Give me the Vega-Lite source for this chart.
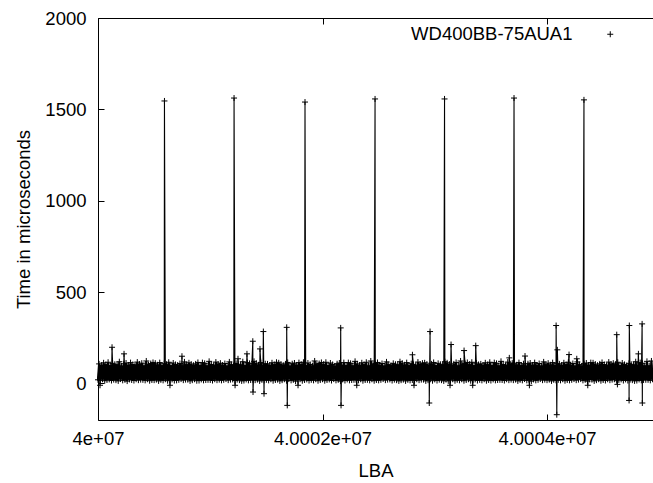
{
"$schema":"https://vega.github.io/schema/vega-lite/v6.json",
"width":555,"height":402,
"autosize":"none",
"padding":{"left":98,"top":18,"right":0,"bottom":63},
"config":{"view":{"stroke":null},"font":"Liberation Sans",
"axis":{"grid":false,"domainColor":"black","tickColor":"black","labelColor":"black","titleColor":"black","labelFontSize":18.5,"titleFontSize":18.5,"titleFontWeight":"normal","labelFont":"Liberation Sans","titleFont":"Liberation Sans","domainWidth":1,"tickWidth":1,"labelFlush":false}},
"data":{"values":[
{"lba":40000000,"us":20},{"lba":40000010,"us":107},{"lba":40000020,"us":17},{"lba":40000030,"us":100},{"lba":40000040,"us":23},{"lba":40000050,"us":113},{"lba":40000060,"us":15},{"lba":40000070,"us":103},{"lba":40000080,"us":19},{"lba":40000090,"us":116},
{"lba":40000100,"us":22},{"lba":40000110,"us":98},{"lba":40000120,"us":16},{"lba":40000130,"us":110},{"lba":40000140,"us":21},{"lba":40000150,"us":105},{"lba":40000160,"us":18},{"lba":40000170,"us":102},{"lba":40000180,"us":14},{"lba":40000190,"us":119},
{"lba":40000200,"us":24},{"lba":40000210,"us":96},{"lba":40000220,"us":17},{"lba":40000230,"us":108},{"lba":40000240,"us":20},{"lba":40000250,"us":112},{"lba":40000260,"us":13},{"lba":40000270,"us":101},{"lba":40000280,"us":22},{"lba":40000290,"us":114},
{"lba":40000300,"us":19},{"lba":40000310,"us":104},{"lba":40000320,"us":16},{"lba":40000330,"us":99},{"lba":40000340,"us":23},{"lba":40000350,"us":117},{"lba":40000360,"us":18},{"lba":40000370,"us":106},{"lba":40000380,"us":21},{"lba":40000390,"us":111},
{"lba":40000400,"us":20},{"lba":40000410,"us":97},{"lba":40000420,"us":17},{"lba":40000430,"us":123},{"lba":40000440,"us":23},{"lba":40000450,"us":103},{"lba":40000460,"us":15},{"lba":40000470,"us":109},{"lba":40000480,"us":19},{"lba":40000490,"us":115},
{"lba":40000500,"us":18},{"lba":40000510,"us":111},{"lba":40000520,"us":21},{"lba":40000530,"us":102},{"lba":40000540,"us":14},{"lba":40000550,"us":114},{"lba":40000560,"us":20},{"lba":40000570,"us":99},{"lba":40000580,"us":17},{"lba":40000590,"us":108},
{"lba":40000600,"us":23},{"lba":40000610,"us":105},{"lba":40000620,"us":15},{"lba":40000630,"us":116},{"lba":40000640,"us":19},{"lba":40000650,"us":98},{"lba":40000660,"us":22},{"lba":40000670,"us":112},{"lba":40000680,"us":16},{"lba":40000690,"us":104},
{"lba":40000700,"us":17},{"lba":40000710,"us":101},{"lba":40000720,"us":20},{"lba":40000730,"us":109},{"lba":40000740,"us":24},{"lba":40000750,"us":96},{"lba":40000760,"us":18},{"lba":40000770,"us":118},{"lba":40000780,"us":21},{"lba":40000790,"us":103},
{"lba":40000800,"us":21},{"lba":40000810,"us":113},{"lba":40000820,"us":14},{"lba":40000830,"us":106},{"lba":40000840,"us":18},{"lba":40000850,"us":100},{"lba":40000860,"us":23},{"lba":40000870,"us":107},{"lba":40000880,"us":15},{"lba":40000890,"us":115},
{"lba":40000900,"us":16},{"lba":40000910,"us":99},{"lba":40000920,"us":22},{"lba":40000930,"us":114},{"lba":40000940,"us":17},{"lba":40000950,"us":110},{"lba":40000960,"us":19},{"lba":40000970,"us":97},{"lba":40000980,"us":20},{"lba":40000990,"us":121},
{"lba":40001000,"us":19},{"lba":40001010,"us":104},{"lba":40001020,"us":16},{"lba":40001030,"us":99},{"lba":40001040,"us":23},{"lba":40001050,"us":117},{"lba":40001060,"us":18},{"lba":40001070,"us":106},{"lba":40001080,"us":21},{"lba":40001090,"us":111},
{"lba":40001100,"us":17},{"lba":40001110,"us":101},{"lba":40001120,"us":20},{"lba":40001130,"us":109},{"lba":40001140,"us":24},{"lba":40001150,"us":96},{"lba":40001160,"us":18},{"lba":40001170,"us":118},{"lba":40001180,"us":21},{"lba":40001190,"us":103},
{"lba":40001200,"us":22},{"lba":40001210,"us":98},{"lba":40001220,"us":16},{"lba":40001230,"us":110},{"lba":40001240,"us":21},{"lba":40001250,"us":105},{"lba":40001260,"us":18},{"lba":40001270,"us":102},{"lba":40001280,"us":14},{"lba":40001290,"us":119},
{"lba":40001300,"us":16},{"lba":40001310,"us":99},{"lba":40001320,"us":22},{"lba":40001330,"us":114},{"lba":40001340,"us":17},{"lba":40001350,"us":110},{"lba":40001360,"us":19},{"lba":40001370,"us":97},{"lba":40001380,"us":20},{"lba":40001390,"us":121},
{"lba":40001400,"us":18},{"lba":40001410,"us":111},{"lba":40001420,"us":21},{"lba":40001430,"us":102},{"lba":40001440,"us":14},{"lba":40001450,"us":114},{"lba":40001460,"us":20},{"lba":40001470,"us":99},{"lba":40001480,"us":17},{"lba":40001490,"us":108},
{"lba":40001500,"us":20},{"lba":40001510,"us":107},{"lba":40001520,"us":17},{"lba":40001530,"us":100},{"lba":40001540,"us":23},{"lba":40001550,"us":113},{"lba":40001560,"us":15},{"lba":40001570,"us":103},{"lba":40001580,"us":19},{"lba":40001590,"us":116},
{"lba":40001600,"us":21},{"lba":40001610,"us":113},{"lba":40001620,"us":14},{"lba":40001630,"us":106},{"lba":40001640,"us":18},{"lba":40001650,"us":100},{"lba":40001660,"us":23},{"lba":40001670,"us":107},{"lba":40001680,"us":15},{"lba":40001690,"us":115},
{"lba":40001700,"us":24},{"lba":40001710,"us":96},{"lba":40001720,"us":17},{"lba":40001730,"us":108},{"lba":40001740,"us":20},{"lba":40001750,"us":112},{"lba":40001760,"us":13},{"lba":40001770,"us":101},{"lba":40001780,"us":22},{"lba":40001790,"us":114},
{"lba":40001800,"us":23},{"lba":40001810,"us":105},{"lba":40001820,"us":15},{"lba":40001830,"us":116},{"lba":40001840,"us":19},{"lba":40001850,"us":98},{"lba":40001860,"us":22},{"lba":40001870,"us":112},{"lba":40001880,"us":16},{"lba":40001890,"us":104},
{"lba":40001900,"us":20},{"lba":40001910,"us":97},{"lba":40001920,"us":17},{"lba":40001930,"us":123},{"lba":40001940,"us":23},{"lba":40001950,"us":103},{"lba":40001960,"us":15},{"lba":40001970,"us":109},{"lba":40001980,"us":19},{"lba":40001990,"us":115},
{"lba":40002000,"us":23},{"lba":40002010,"us":105},{"lba":40002020,"us":15},{"lba":40002030,"us":116},{"lba":40002040,"us":19},{"lba":40002050,"us":98},{"lba":40002060,"us":22},{"lba":40002070,"us":112},{"lba":40002080,"us":16},{"lba":40002090,"us":104},
{"lba":40002100,"us":24},{"lba":40002110,"us":96},{"lba":40002120,"us":17},{"lba":40002130,"us":108},{"lba":40002140,"us":20},{"lba":40002150,"us":112},{"lba":40002160,"us":13},{"lba":40002170,"us":101},{"lba":40002180,"us":22},{"lba":40002190,"us":114},
{"lba":40002200,"us":16},{"lba":40002210,"us":99},{"lba":40002220,"us":22},{"lba":40002230,"us":114},{"lba":40002240,"us":17},{"lba":40002250,"us":110},{"lba":40002260,"us":19},{"lba":40002270,"us":97},{"lba":40002280,"us":20},{"lba":40002290,"us":121},
{"lba":40002300,"us":20},{"lba":40002310,"us":107},{"lba":40002320,"us":17},{"lba":40002330,"us":100},{"lba":40002340,"us":23},{"lba":40002350,"us":113},{"lba":40002360,"us":15},{"lba":40002370,"us":103},{"lba":40002380,"us":19},{"lba":40002390,"us":116},
{"lba":40002400,"us":20},{"lba":40002410,"us":97},{"lba":40002420,"us":17},{"lba":40002430,"us":123},{"lba":40002440,"us":23},{"lba":40002450,"us":103},{"lba":40002460,"us":15},{"lba":40002470,"us":109},{"lba":40002480,"us":19},{"lba":40002490,"us":115},
{"lba":40002500,"us":17},{"lba":40002510,"us":101},{"lba":40002520,"us":20},{"lba":40002530,"us":109},{"lba":40002540,"us":24},{"lba":40002550,"us":96},{"lba":40002560,"us":18},{"lba":40002570,"us":118},{"lba":40002580,"us":21},{"lba":40002590,"us":103},
{"lba":40002600,"us":22},{"lba":40002610,"us":98},{"lba":40002620,"us":16},{"lba":40002630,"us":110},{"lba":40002640,"us":21},{"lba":40002650,"us":105},{"lba":40002660,"us":18},{"lba":40002670,"us":102},{"lba":40002680,"us":14},{"lba":40002690,"us":119},
{"lba":40002700,"us":18},{"lba":40002710,"us":111},{"lba":40002720,"us":21},{"lba":40002730,"us":102},{"lba":40002740,"us":14},{"lba":40002750,"us":114},{"lba":40002760,"us":20},{"lba":40002770,"us":99},{"lba":40002780,"us":17},{"lba":40002790,"us":108},
{"lba":40002800,"us":19},{"lba":40002810,"us":104},{"lba":40002820,"us":16},{"lba":40002830,"us":99},{"lba":40002840,"us":23},{"lba":40002850,"us":117},{"lba":40002860,"us":18},{"lba":40002870,"us":106},{"lba":40002880,"us":21},{"lba":40002890,"us":111},
{"lba":40002900,"us":21},{"lba":40002910,"us":113},{"lba":40002920,"us":14},{"lba":40002930,"us":106},{"lba":40002940,"us":18},{"lba":40002950,"us":100},{"lba":40002960,"us":23},{"lba":40002970,"us":107},{"lba":40002980,"us":15},{"lba":40002990,"us":115},
{"lba":40003000,"us":22},{"lba":40003010,"us":98},{"lba":40003020,"us":16},{"lba":40003030,"us":110},{"lba":40003040,"us":21},{"lba":40003050,"us":105},{"lba":40003060,"us":18},{"lba":40003070,"us":102},{"lba":40003080,"us":14},{"lba":40003090,"us":119},
{"lba":40003100,"us":21},{"lba":40003110,"us":113},{"lba":40003120,"us":14},{"lba":40003130,"us":106},{"lba":40003140,"us":18},{"lba":40003150,"us":100},{"lba":40003160,"us":23},{"lba":40003170,"us":107},{"lba":40003180,"us":15},{"lba":40003190,"us":115},
{"lba":40003200,"us":20},{"lba":40003210,"us":97},{"lba":40003220,"us":17},{"lba":40003230,"us":123},{"lba":40003240,"us":23},{"lba":40003250,"us":103},{"lba":40003260,"us":15},{"lba":40003270,"us":109},{"lba":40003280,"us":19},{"lba":40003290,"us":115},
{"lba":40003300,"us":23},{"lba":40003310,"us":105},{"lba":40003320,"us":15},{"lba":40003330,"us":116},{"lba":40003340,"us":19},{"lba":40003350,"us":98},{"lba":40003360,"us":22},{"lba":40003370,"us":112},{"lba":40003380,"us":16},{"lba":40003390,"us":104},
{"lba":40003400,"us":20},{"lba":40003410,"us":107},{"lba":40003420,"us":17},{"lba":40003430,"us":100},{"lba":40003440,"us":23},{"lba":40003450,"us":113},{"lba":40003460,"us":15},{"lba":40003470,"us":103},{"lba":40003480,"us":19},{"lba":40003490,"us":116},
{"lba":40003500,"us":16},{"lba":40003510,"us":99},{"lba":40003520,"us":22},{"lba":40003530,"us":114},{"lba":40003540,"us":17},{"lba":40003550,"us":110},{"lba":40003560,"us":19},{"lba":40003570,"us":97},{"lba":40003580,"us":20},{"lba":40003590,"us":121},
{"lba":40003600,"us":19},{"lba":40003610,"us":104},{"lba":40003620,"us":16},{"lba":40003630,"us":99},{"lba":40003640,"us":23},{"lba":40003650,"us":117},{"lba":40003660,"us":18},{"lba":40003670,"us":106},{"lba":40003680,"us":21},{"lba":40003690,"us":111},
{"lba":40003700,"us":18},{"lba":40003710,"us":111},{"lba":40003720,"us":21},{"lba":40003730,"us":102},{"lba":40003740,"us":14},{"lba":40003750,"us":114},{"lba":40003760,"us":20},{"lba":40003770,"us":99},{"lba":40003780,"us":17},{"lba":40003790,"us":108},
{"lba":40003800,"us":24},{"lba":40003810,"us":96},{"lba":40003820,"us":17},{"lba":40003830,"us":108},{"lba":40003840,"us":20},{"lba":40003850,"us":112},{"lba":40003860,"us":13},{"lba":40003870,"us":101},{"lba":40003880,"us":22},{"lba":40003890,"us":114},
{"lba":40003900,"us":17},{"lba":40003910,"us":101},{"lba":40003920,"us":20},{"lba":40003930,"us":109},{"lba":40003940,"us":24},{"lba":40003950,"us":96},{"lba":40003960,"us":18},{"lba":40003970,"us":118},{"lba":40003980,"us":21},{"lba":40003990,"us":103},
{"lba":40004000,"us":18},{"lba":40004010,"us":111},{"lba":40004020,"us":21},{"lba":40004030,"us":102},{"lba":40004040,"us":14},{"lba":40004050,"us":114},{"lba":40004060,"us":20},{"lba":40004070,"us":99},{"lba":40004080,"us":17},{"lba":40004090,"us":108},
{"lba":40004100,"us":20},{"lba":40004110,"us":107},{"lba":40004120,"us":17},{"lba":40004130,"us":100},{"lba":40004140,"us":23},{"lba":40004150,"us":113},{"lba":40004160,"us":15},{"lba":40004170,"us":103},{"lba":40004180,"us":19},{"lba":40004190,"us":116},
{"lba":40004200,"us":17},{"lba":40004210,"us":101},{"lba":40004220,"us":20},{"lba":40004230,"us":109},{"lba":40004240,"us":24},{"lba":40004250,"us":96},{"lba":40004260,"us":18},{"lba":40004270,"us":118},{"lba":40004280,"us":21},{"lba":40004290,"us":103},
{"lba":40004300,"us":24},{"lba":40004310,"us":96},{"lba":40004320,"us":17},{"lba":40004330,"us":108},{"lba":40004340,"us":20},{"lba":40004350,"us":112},{"lba":40004360,"us":13},{"lba":40004370,"us":101},{"lba":40004380,"us":22},{"lba":40004390,"us":114},
{"lba":40004400,"us":21},{"lba":40004410,"us":113},{"lba":40004420,"us":14},{"lba":40004430,"us":106},{"lba":40004440,"us":18},{"lba":40004450,"us":100},{"lba":40004460,"us":23},{"lba":40004470,"us":107},{"lba":40004480,"us":15},{"lba":40004490,"us":115},
{"lba":40004500,"us":19},{"lba":40004510,"us":104},{"lba":40004520,"us":16},{"lba":40004530,"us":99},{"lba":40004540,"us":23},{"lba":40004550,"us":117},{"lba":40004560,"us":18},{"lba":40004570,"us":106},{"lba":40004580,"us":21},{"lba":40004590,"us":111},
{"lba":40004600,"us":23},{"lba":40004610,"us":105},{"lba":40004620,"us":15},{"lba":40004630,"us":116},{"lba":40004640,"us":19},{"lba":40004650,"us":98},{"lba":40004660,"us":22},{"lba":40004670,"us":112},{"lba":40004680,"us":16},{"lba":40004690,"us":104},
{"lba":40004700,"us":22},{"lba":40004710,"us":98},{"lba":40004720,"us":16},{"lba":40004730,"us":110},{"lba":40004740,"us":21},{"lba":40004750,"us":105},{"lba":40004760,"us":18},{"lba":40004770,"us":102},{"lba":40004780,"us":14},{"lba":40004790,"us":119},
{"lba":40004800,"us":16},{"lba":40004810,"us":99},{"lba":40004820,"us":22},{"lba":40004830,"us":114},{"lba":40004840,"us":17},{"lba":40004850,"us":110},{"lba":40004860,"us":19},{"lba":40004870,"us":97},{"lba":40004880,"us":20},{"lba":40004890,"us":121},
{"lba":40004900,"us":20},{"lba":40004910,"us":97},{"lba":40004920,"us":17},{"lba":40004930,"us":123},{"lba":40004940,"us":23},
{"lba":40000018,"us":-10},{"lba":40000125,"us":198},{"lba":40000232,"us":162},{"lba":40000592,"us":1546},{"lba":40000641,"us":-10},{"lba":40000748,"us":149},
{"lba":40001212,"us":1562},{"lba":40001221,"us":-10},{"lba":40001247,"us":135},{"lba":40001327,"us":162},{"lba":40001379,"us":231},{"lba":40001381,"us":-47},
{"lba":40001443,"us":189},{"lba":40001473,"us":284},{"lba":40001479,"us":-56},{"lba":40001681,"us":307},{"lba":40001686,"us":-120},{"lba":40001782,"us":-10},
{"lba":40001844,"us":1540},{"lba":40002162,"us":304},{"lba":40002165,"us":-120},{"lba":40002305,"us":-10},{"lba":40002468,"us":1557},{"lba":40002801,"us":157},
{"lba":40002815,"us":-10},{"lba":40002951,"us":-107},{"lba":40002958,"us":284},{"lba":40003087,"us":1557},{"lba":40003136,"us":-10},{"lba":40003145,"us":213},
{"lba":40003261,"us":180},{"lba":40003338,"us":-10},{"lba":40003365,"us":207},{"lba":40003664,"us":140},{"lba":40003706,"us":1562},{"lba":40003804,"us":150},
{"lba":40003843,"us":-10},{"lba":40004081,"us":317},{"lba":40004087,"us":-171},{"lba":40004092,"us":184},{"lba":40004196,"us":158},{"lba":40004265,"us":135},
{"lba":40004329,"us":1552},{"lba":40004363,"us":-10},{"lba":40004621,"us":267},{"lba":40004627,"us":-5},{"lba":40004731,"us":-93},{"lba":40004733,"us":317},
{"lba":40004814,"us":162},{"lba":40004847,"us":326},{"lba":40004849,"us":-107}
]},
"encoding":{
"y":{"field":"us","type":"quantitative","scale":{"domain":[-200,2000],"nice":false,"zero":false},
"axis":{"title":"Time in microseconds","values":[0,500,1000,1500,2000],"format":"d","tickSize":-6,"labelPadding":18,"titlePadding":11}}
},
"layer":[
{"transform":[{"filter":"datum.us >= 0 && datum.us <= 125"}],
"mark":{"type":"line","color":"black","strokeWidth":2.2},
"encoding":{"x":{"field":"lba","type":"quantitative","scale":{"domain":[40000000,40004944],"nice":false,"zero":false},
"axis":{"title":"LBA","values":[40000000,40002000,40004000],"labelExpr":"replace(format(datum.value,'.5~e'),'e+7','e+07')","tickSize":-6,"labelPadding":15,"titlePadding":14}}}},
{"mark":{"type":"line","color":"black","strokeWidth":1.1},
"encoding":{"x":{"field":"lba","type":"quantitative","scale":{"domain":[40000000,40004944],"nice":false,"zero":false},"axis":null}}},
{"mark":{"type":"point","filled":false,"color":"black","strokeWidth":1,"size":36,"opacity":1},
"encoding":{"x":{"field":"lba","type":"quantitative","scale":{"domain":[40000000,40004944],"nice":false,"zero":false},
"axis":{"orient":"top","labels":false,"title":null,"values":[40000000,40002000,40004000],"tickSize":-6}},
"shape":{"datum":"WD400BB-75AUA1","type":"nominal","scale":{"range":["M-1,0H1M0,-1V1"]},
"legend":{"orient":"none","legendX":503,"legendY":7,"title":null,"padding":0,"labelFontSize":18.5,"labelFont":"Liberation Sans","labelColor":"black","labelAlign":"right","labelOffset":-47,"labelLimit":400,"symbolSize":36,"symbolStrokeColor":"black","symbolFillColor":"transparent","symbolStrokeWidth":1}}}}
],
"resolve":{"axis":{"x":"independent"}}
}
